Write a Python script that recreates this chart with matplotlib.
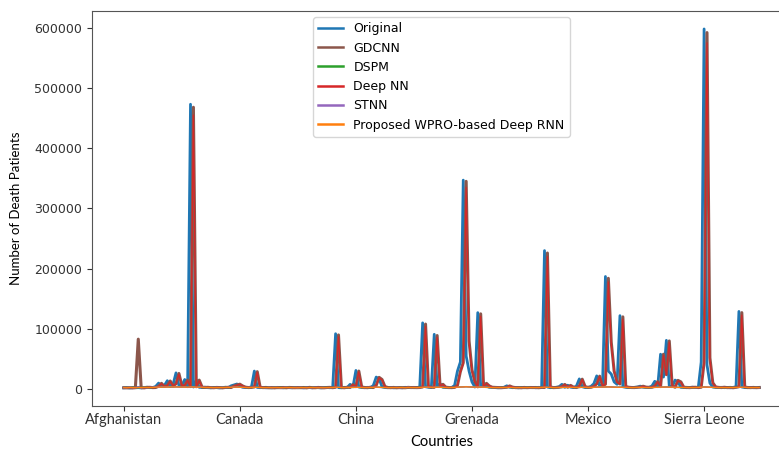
import numpy as np
import matplotlib
matplotlib.use("Agg")
import matplotlib.pyplot as plt

# Death counts per country sample, in thousands
countries = ["Afghanistan", "Canada", "China", "Grenada", "Mexico", "Sierra Leone"]
country_step = 40

original_k = [
    2.1, 2.4, 1.8, 2.6, 2.2, 2.5, 2.0, 2.8, 3.1, 2.4,
    2.6, 4.5, 10.0, 4.2, 6.0, 14.0, 5.1, 8.0, 27.0, 6.0,
    5.5, 16.0, 4.0, 473.0, 3.5, 14.0, 3.0, 2.6, 3.2, 2.4,
    2.2, 2.9, 2.5, 2.0, 2.7, 3.1, 2.6, 5.5, 7.0, 8.5,
    5.0, 3.0, 2.5, 2.8, 3.5, 30.0, 2.9, 2.4, 2.7, 2.2,
    2.5, 2.0, 2.8, 2.3, 2.6, 2.1, 2.9, 2.4, 2.2, 2.7,
    2.3, 2.6, 2.0, 2.8, 2.5, 2.2, 2.9, 2.4, 2.1, 2.6,
    2.8, 2.3, 3.0, 92.0, 2.5, 2.2, 3.0, 2.7, 8.0, 4.0,
    31.0, 3.5, 2.6, 2.3, 3.0, 2.5, 6.0, 20.0, 17.0, 4.0,
    2.6, 2.3, 2.9, 2.1, 2.7, 2.4, 2.2, 3.0, 2.5, 2.8,
    2.4, 2.6, 3.5, 110.0, 4.0, 3.0, 2.8, 91.0, 5.0, 9.0,
    3.0, 2.6, 2.4, 2.8, 6.0, 30.0, 45.0, 347.0, 55.0, 30.0,
    12.0, 3.5, 127.0, 4.0, 10.0, 5.0, 3.0, 2.8, 2.5, 2.2,
    2.6, 3.0, 5.5, 3.2, 2.4, 2.7, 2.1, 2.9, 2.3, 2.6,
    2.5, 2.8, 2.2, 3.0, 2.6, 230.0, 3.5, 2.4, 2.8, 3.0,
    4.0, 8.0, 3.0, 6.5, 3.2, 2.5, 5.0, 17.0, 4.0, 2.6,
    3.0, 4.5, 9.0, 22.0, 5.0, 8.0, 187.0, 30.0, 25.0, 12.0,
    8.0, 122.0, 4.0, 3.0, 2.6, 2.5, 3.0, 3.5, 5.0, 3.2,
    2.8, 3.0, 5.0, 13.0, 4.0, 58.0, 20.0, 81.0, 5.0, 4.0,
    15.0, 12.0, 3.0, 2.7, 2.4, 2.8, 3.2, 2.5, 3.0, 45.0,
    598.0, 40.0, 10.0, 3.5, 2.8, 2.5, 3.0, 2.4, 2.7, 2.2,
    2.9, 4.0, 129.0, 3.5, 2.6, 2.4, 2.9, 2.3, 2.6, 2.5,
]

gdcnn_k = [
    2.3, 2.2, 2.5, 1.9, 2.7, 83.0, 2.4, 2.1, 2.9, 3.0,
    2.5, 2.7, 4.8, 9.6, 4.5, 6.2, 13.5, 5.3, 8.8, 26.0,
    6.2, 5.8, 15.0, 4.2, 468.0, 4.0, 15.0, 3.2, 2.8, 3.0,
    2.5, 2.3, 2.8, 2.6, 2.1, 2.8, 3.0, 2.7, 5.2, 6.8,
    8.2, 5.2, 3.2, 2.6, 2.9, 3.6, 29.0, 3.1, 2.5, 2.8,
    2.3, 2.6, 2.1, 2.7, 2.4, 2.7, 2.2, 2.8, 2.5, 2.3,
    2.6, 2.4, 2.7, 2.1, 2.9, 2.4, 2.3, 2.8, 2.5, 2.2,
    2.7, 2.9, 2.4, 3.1, 90.0, 2.7, 2.3, 3.1, 2.8, 7.6,
    4.2, 30.0, 3.6, 2.7, 2.4, 3.1, 2.6, 6.3, 19.5, 16.0,
    4.3, 2.7, 2.4, 2.8, 2.2, 2.6, 2.5, 2.3, 2.9, 2.6,
    2.7, 2.5, 2.7, 3.6, 108.0, 4.2, 3.1, 2.9, 89.0, 5.2,
    8.0, 3.2, 2.7, 2.5, 2.9, 6.2, 29.0, 44.0, 345.0, 80.0,
    32.0, 12.5, 3.8, 125.0, 4.3, 9.6, 5.2, 3.1, 2.9, 2.6,
    2.3, 2.7, 3.1, 5.3, 3.3, 2.5, 2.6, 2.2, 2.8, 2.4,
    2.7, 2.6, 2.7, 2.3, 2.9, 2.7, 226.0, 3.8, 2.5, 2.7,
    3.1, 4.2, 7.8, 3.2, 6.2, 3.3, 2.6, 5.2, 16.5, 4.2,
    2.8, 3.1, 4.6, 8.8, 21.5, 5.3, 8.2, 184.0, 78.0, 30.0,
    12.0, 8.5, 120.0, 4.3, 3.1, 2.7, 2.6, 3.1, 3.4, 4.8,
    3.3, 2.9, 3.1, 5.2, 12.5, 4.2, 58.0, 24.0, 80.0, 5.3,
    3.2, 14.5, 12.0, 3.1, 2.8, 2.5, 2.9, 3.1, 2.6, 3.1,
    44.0, 592.0, 52.0, 10.5, 3.6, 2.9, 2.6, 3.1, 2.5, 2.8,
    2.3, 3.0, 4.2, 127.0, 3.6, 2.7, 2.5, 2.8, 2.4, 2.7,
]

dspm_k = [
    2.4, 2.7, 2.2, 2.9, 2.5, 2.3, 2.8, 2.6, 3.0, 2.4,
    2.8, 3.2, 3.6, 3.1, 3.4, 3.8, 3.3, 3.5, 4.0, 3.6,
    3.2, 3.7, 3.0, 3.9, 3.4, 3.1, 3.5, 2.9, 2.6, 2.8,
    2.4, 2.6, 2.3, 2.7, 2.5, 2.9, 2.6, 3.1, 3.3, 3.5,
    3.2, 2.9, 2.7, 2.5, 2.8, 3.2, 2.9, 2.6, 2.4, 2.7,
    2.5, 2.2, 2.6, 2.4, 2.8, 2.3, 2.5, 2.7, 2.4, 2.6,
    2.2, 2.5, 2.7, 2.3, 2.6, 2.8, 2.4, 2.2, 2.6, 2.5,
    2.7, 2.4, 2.8, 3.2, 2.9, 2.5, 2.7, 2.6, 3.0, 2.8,
    3.1, 2.9, 2.5, 2.7, 2.4, 2.6, 3.0, 3.3, 3.1, 2.8,
    2.5, 2.7, 2.4, 2.6, 2.3, 2.5, 2.8, 2.4, 2.6, 2.7,
    2.3, 2.6, 2.8, 3.1, 3.4, 3.0, 2.8, 3.2, 3.4, 3.0,
    2.7, 2.5, 2.8, 2.6, 2.9, 3.3, 3.6, 3.8, 4.1, 3.7,
    3.4, 3.2, 3.5, 3.6, 3.1, 2.9, 2.7, 2.5, 2.8, 2.4,
    2.6, 2.8, 2.9, 2.7, 2.5, 2.3, 2.7, 2.5, 2.4, 2.8,
    2.6, 2.4, 2.7, 2.5, 2.9, 3.2, 3.0, 2.7, 2.5, 2.6,
    2.9, 2.7, 3.0, 2.8, 3.1, 2.7, 2.5, 2.9, 3.2, 2.8,
    2.6, 2.9, 3.1, 3.4, 3.6, 3.3, 3.7, 3.9, 3.5, 3.2,
    3.0, 3.3, 3.1, 2.8, 2.6, 2.4, 2.7, 2.9, 2.8, 2.6,
    2.7, 2.5, 2.8, 3.0, 3.2, 3.5, 3.3, 3.6, 3.4, 3.1,
    2.9, 3.0, 2.7, 2.5, 2.8, 2.6, 2.4, 2.7, 2.9, 3.2,
    3.6, 3.4, 3.1, 2.8, 2.6, 2.5, 2.8, 2.4, 2.6, 2.9,
    2.7, 2.8, 3.0, 3.3, 2.9, 2.6, 2.4, 2.7, 2.5, 2.6,
]

deep_nn_k = [
    2.6, 2.1, 2.3, 2.4, 2.0, 3.0, 2.6, 2.3, 2.7, 3.2,
    2.3, 2.9, 4.4, 9.2, 4.7, 5.8, 13.0, 5.6, 8.4, 25.0,
    6.4, 6.1, 14.2, 4.5, 455.0, 4.3, 14.0, 3.4, 2.6, 3.2,
    2.7, 2.1, 2.6, 2.8, 2.3, 2.6, 3.2, 2.5, 5.0, 6.5,
    7.9, 5.4, 3.0, 2.8, 2.7, 3.8, 28.0, 3.3, 2.7, 2.6,
    2.5, 2.4, 2.3, 2.5, 2.6, 2.5, 2.4, 2.6, 2.7, 2.1,
    2.4, 2.6, 2.5, 2.3, 2.7, 2.6, 2.1, 2.6, 2.7, 2.4,
    2.5, 2.7, 2.6, 2.9, 87.0, 2.9, 2.5, 2.9, 2.6, 7.3,
    4.5, 29.0, 3.8, 2.5, 2.6, 2.9, 2.8, 6.0, 19.0, 15.5,
    4.6, 2.5, 2.6, 2.6, 2.4, 2.4, 2.7, 2.5, 2.7, 2.8,
    2.5, 2.7, 2.5, 3.8, 104.0, 4.5, 3.3, 2.7, 86.0, 5.5,
    7.6, 3.4, 2.5, 2.7, 2.7, 6.0, 28.0, 42.0, 335.0, 77.0,
    30.0, 12.0, 4.0, 121.0, 4.6, 9.2, 5.5, 3.3, 2.7, 2.8,
    2.5, 2.5, 3.3, 5.0, 3.5, 2.3, 2.8, 2.4, 2.6, 2.6,
    2.5, 2.8, 2.5, 2.5, 2.7, 2.9, 220.0, 4.0, 2.7, 2.5,
    3.3, 4.0, 7.5, 3.4, 6.0, 3.5, 2.4, 5.0, 16.0, 4.4,
    2.6, 3.3, 4.4, 8.5, 21.0, 5.5, 8.0, 178.0, 75.0, 29.0,
    11.5, 8.2, 116.0, 4.5, 3.3, 2.5, 2.8, 2.9, 3.6, 4.6,
    3.5, 2.7, 3.3, 5.0, 12.0, 4.4, 56.0, 23.0, 78.0, 5.5,
    3.4, 14.0, 11.5, 3.3, 2.6, 2.7, 2.7, 3.3, 2.4, 3.3,
    42.0, 575.0, 50.0, 10.0, 3.8, 2.7, 2.8, 2.9, 2.7, 2.6,
    2.5, 2.8, 4.0, 123.0, 3.8, 2.5, 2.7, 2.6, 2.6, 2.5,
]

stnn_k = [
    2.2, 2.5, 2.8, 2.4, 2.6, 2.9, 2.3, 2.7, 2.5, 2.8,
    3.0, 3.4, 3.1, 3.7, 3.3, 3.6, 3.9, 3.4, 3.8, 3.5,
    3.3, 3.6, 3.2, 3.8, 3.5, 3.0, 3.4, 3.1, 2.7, 2.5,
    2.6, 2.4, 2.7, 2.5, 2.8, 2.6, 2.9, 3.2, 3.4, 3.3,
    3.0, 2.8, 2.6, 2.7, 2.9, 3.1, 2.8, 2.5, 2.6, 2.4,
    2.7, 2.4, 2.5, 2.7, 2.3, 2.6, 2.8, 2.5, 2.3, 2.6,
    2.4, 2.7, 2.3, 2.6, 2.4, 2.5, 2.7, 2.4, 2.5, 2.3,
    2.6, 2.5, 2.7, 3.0, 3.1, 2.7, 2.5, 2.8, 2.9, 3.0,
    2.9, 3.1, 2.7, 2.5, 2.6, 2.8, 3.1, 3.2, 2.9, 2.7,
    2.6, 2.4, 2.6, 2.5, 2.7, 2.4, 2.6, 2.5, 2.8, 2.5,
    2.6, 2.4, 2.7, 3.0, 3.2, 3.3, 2.9, 3.1, 3.3, 3.2,
    2.9, 2.6, 2.7, 2.8, 2.7, 3.1, 3.4, 3.7, 3.9, 3.8,
    3.5, 3.3, 3.4, 3.5, 3.3, 3.0, 2.8, 2.6, 2.7, 2.6,
    2.4, 2.7, 2.8, 2.9, 2.6, 2.5, 2.6, 2.4, 2.6, 2.7,
    2.5, 2.6, 2.5, 2.7, 2.8, 3.0, 3.1, 2.9, 2.6, 2.5,
    2.8, 2.9, 2.8, 3.0, 2.9, 2.8, 2.6, 2.8, 3.0, 3.0,
    2.7, 2.8, 3.0, 3.2, 3.5, 3.4, 3.5, 3.8, 3.6, 3.4,
    3.1, 3.2, 3.0, 2.9, 2.7, 2.6, 2.5, 2.8, 2.7, 2.8,
    2.6, 2.7, 2.6, 2.9, 3.1, 3.3, 3.4, 3.5, 3.3, 3.2,
    3.0, 2.8, 2.9, 2.6, 2.7, 2.5, 2.6, 2.5, 2.8, 3.0,
    3.4, 3.5, 3.2, 3.0, 2.7, 2.6, 2.7, 2.6, 2.5, 2.7,
    2.8, 2.6, 2.9, 3.1, 3.0, 2.7, 2.6, 2.5, 2.7, 2.4,
]

proposed_k = [
    2.5, 2.3, 2.6, 2.7, 2.3, 2.6, 2.5, 2.9, 2.7, 2.6,
    2.9, 3.3, 3.4, 3.2, 3.6, 3.4, 3.7, 3.6, 3.6, 3.7,
    3.4, 3.5, 3.3, 3.6, 3.6, 3.2, 3.3, 3.0, 2.8, 2.7,
    2.5, 2.5, 2.5, 2.6, 2.6, 2.7, 2.8, 3.0, 3.5, 3.4,
    3.1, 3.0, 2.8, 2.6, 2.7, 3.0, 3.0, 2.7, 2.5, 2.5,
    2.6, 2.3, 2.7, 2.5, 2.5, 2.4, 2.7, 2.6, 2.5, 2.5,
    2.3, 2.6, 2.5, 2.4, 2.5, 2.7, 2.5, 2.3, 2.4, 2.4,
    2.5, 2.6, 2.6, 3.1, 3.0, 2.6, 2.6, 2.7, 2.8, 2.9,
    3.0, 3.0, 2.6, 2.6, 2.5, 2.7, 2.9, 3.4, 3.0, 2.9,
    2.7, 2.5, 2.5, 2.6, 2.5, 2.6, 2.7, 2.4, 2.7, 2.6,
    2.4, 2.5, 2.6, 3.0, 3.3, 3.1, 3.0, 3.0, 3.2, 3.1,
    2.8, 2.7, 2.6, 2.7, 2.8, 3.2, 3.5, 3.6, 4.0, 3.6,
    3.6, 3.3, 3.3, 3.5, 3.2, 3.0, 2.8, 2.6, 2.6, 2.5,
    2.5, 2.6, 2.7, 2.8, 2.7, 2.4, 2.5, 2.6, 2.5, 2.6,
    2.6, 2.5, 2.6, 2.6, 2.7, 3.1, 3.1, 2.8, 2.6, 2.5,
    2.7, 2.8, 2.9, 2.9, 3.0, 2.9, 2.7, 2.7, 3.1, 2.9,
    2.8, 2.7, 3.0, 3.3, 3.4, 3.5, 3.6, 3.7, 3.5, 3.3,
    3.1, 3.1, 3.1, 3.0, 2.7, 2.5, 2.6, 2.7, 2.9, 2.7,
    2.6, 2.6, 2.7, 2.9, 3.1, 3.4, 3.4, 3.5, 3.3, 3.3,
    3.0, 2.9, 2.8, 2.6, 2.6, 2.6, 2.5, 2.6, 2.8, 3.1,
    3.5, 3.4, 3.2, 2.9, 2.7, 2.6, 2.7, 2.5, 2.6, 2.8,
    2.7, 2.7, 2.9, 3.2, 3.0, 2.7, 2.5, 2.6, 2.6, 2.5,
]

series = [
    ("Original", original_k, "#1f77b4", 2.0),
    ("GDCNN", gdcnn_k, "#8c564b", 2.2),
    ("DSPM", dspm_k, "#2ca02c", 1.0),
    ("Deep NN", deep_nn_k, "#d62728", 0.9),
    ("STNN", stnn_k, "#9467bd", 1.0),
    ("Proposed WPRO-based Deep RNN", proposed_k, "#ff7f0e", 0.9),
]

fig = plt.figure(figsize=(7.79, 4.5), dpi=100)
ax = fig.add_axes([92 / 779, 44 / 450, 699 / 779, 395 / 450])

x = np.arange(len(original_k))
for name, vals, col, lw in series:
    ax.plot(x, np.array(vals) * 1000, color=col, lw=lw, label=name)

ax.set_xticks(np.arange(len(countries)) * country_step)
ax.set_xticklabels(countries, family="Lato", fontsize=10.5)
ax.set_yticks(np.arange(0, 600001, 100000))
ax.tick_params(axis="y", labelsize=9, colors="#333333")
ax.tick_params(axis="x", colors="#333333", pad=1.5)
ax.set_xlabel("Countries", family="Lato", fontsize=10.5, labelpad=6)
ax.set_ylabel("Number of Death Patients", family="Lato", fontsize=9.5, labelpad=9)
for s in ax.spines.values():
    s.set_color("#555555")

leg = ax.legend(loc="upper center", fontsize=9, framealpha=0.8)
for line in leg.get_lines():
    line.set_linewidth(1.8)

fig.savefig("out.png", dpi=100)
